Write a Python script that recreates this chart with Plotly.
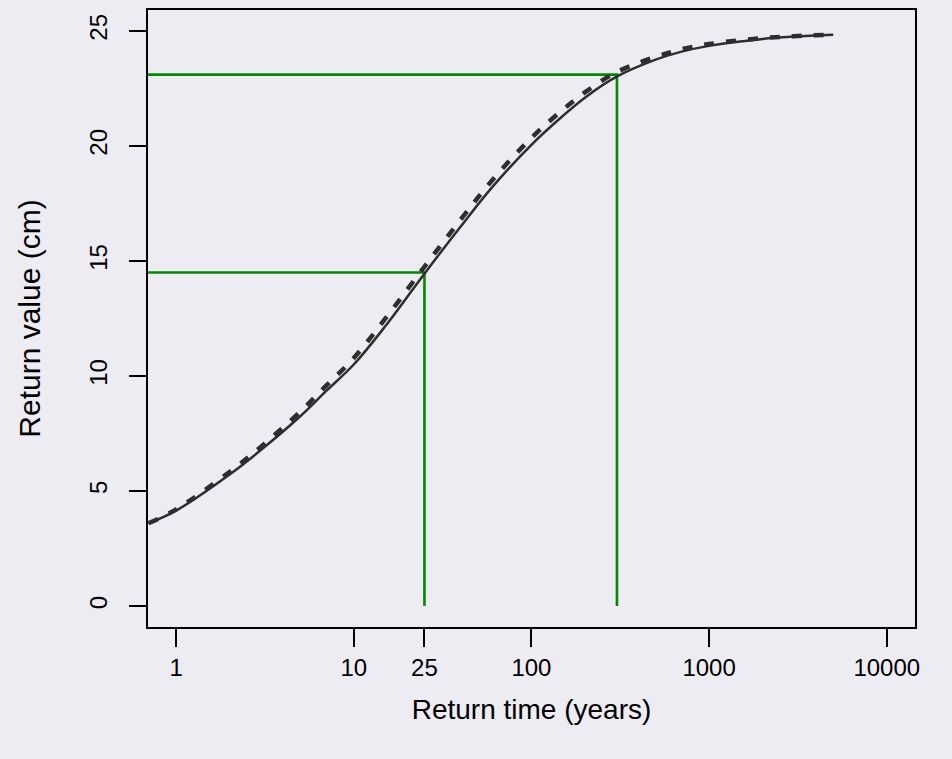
import plotly.graph_objects as go

# Return periods (years) and return values (cm)
return_time = [0.7, 1, 2, 3, 5, 7, 10, 15, 25, 40, 60, 100, 150, 200, 300, 500, 700, 1000, 2000, 3000, 5000]
value_solid = [3.6, 4.15, 5.72, 6.78, 8.25, 9.35, 10.5, 12.15, 14.45, 16.5, 18.2, 20.05, 21.3, 22.1, 23.0, 23.75, 24.1, 24.35, 24.65, 24.75, 24.83]
value_dashed = [3.6, 4.2, 5.83, 6.92, 8.45, 9.58, 10.78, 12.48, 14.75, 16.8, 18.5, 20.35, 21.57, 22.33, 23.2, 23.87, 24.2, 24.43, 24.69, 24.77, 24.84]

# Highlighted return periods and their return levels
marked_time = [25, 303]
marked_value = [14.5, 23.1]

x_tick_vals = [1, 10, 25, 100, 1000, 10000]
x_tick_text = ["1", "10", "25", "100", "1000", "10000"]
y_tick_vals = [0, 5, 10, 15, 20, 25]

x_range = [-0.158, 4.159]
y_range = [-0.91, 25.91]
x_left = 10 ** x_range[0]

BG = "#edecf3"
CURVE = "#2e2e2e"
GREEN = "#008a00"
FONT = "Liberation Sans, Arial, sans-serif"

fig = go.Figure()

for t, v in zip(marked_time, marked_value):
    fig.add_trace(go.Scatter(x=[x_left, t, t], y=[v, v, 0], mode="lines",
                             line=dict(color=GREEN, width=2.6), showlegend=False,
                             hoverinfo="skip"))

fig.add_trace(go.Scatter(x=return_time, y=value_solid, mode="lines",
                         line=dict(color=CURVE, width=2.5, shape="spline"),
                         showlegend=False))
fig.add_trace(go.Scatter(x=return_time, y=value_dashed, mode="lines",
                         line=dict(color=CURVE, width=4.5, dash="10px,12px", shape="spline"),
                         showlegend=False))

fig.update_layout(
    width=952, height=759,
    margin=dict(l=148, r=37, t=8, b=132),
    paper_bgcolor=BG, plot_bgcolor=BG,
    font=dict(family=FONT, size=24, color="black"),
    showlegend=False,
)

fig.update_xaxes(
    type="log", range=x_range,
    tickvals=x_tick_vals, ticktext=x_tick_text,
    ticks="outside", ticklen=18, tickwidth=1.5, tickcolor="black",
    showline=True, linecolor="black", linewidth=2, mirror=True,
    showgrid=False, zeroline=False,
    ticklabelstandoff=0,
    title=dict(text="Return time (years)", standoff=20, font=dict(size=28)),
)
fig.update_yaxes(
    range=y_range,
    tickvals=y_tick_vals,
    ticks="outside", ticklen=17, tickwidth=1.5, tickcolor="black",
    showline=True, linecolor="black", linewidth=2, mirror=True,
    showgrid=False, zeroline=False,
    tickangle=-90, ticklabelstandoff=12,
    title=dict(text="Return value (cm)", standoff=36, font=dict(size=30)),
)

fig.write_html("out.html", config={"displayModeBar": False},
               post_script="document.body.style.margin='0';document.body.style.background='%s';" % BG)
